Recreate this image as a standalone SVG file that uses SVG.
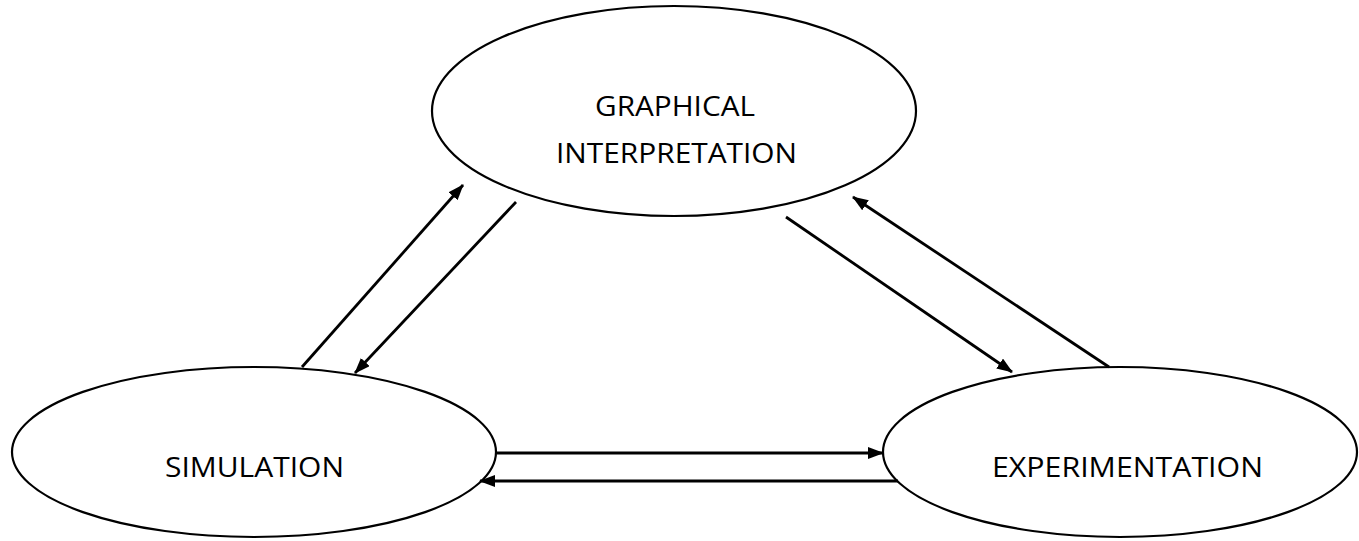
<svg xmlns="http://www.w3.org/2000/svg" width="1359" height="541" viewBox="0 0 1359 541">
  <style>
    .node ellipse { fill: #ffffff; stroke: #000000; stroke-width: 2.2; }
    .node text { font-family: "Open Sans", "Liberation Sans", sans-serif; font-size: 27px; fill: #000000; }
    .edges line { stroke: #000000; stroke-width: 2.8; fill: none; marker-end: url(#head); }
  </style>
  <defs>
    <marker id="head" markerUnits="userSpaceOnUse" markerWidth="16" markerHeight="12" viewBox="0 0 16 12" refX="15" refY="6" orient="auto">
      <path d="M0,0 L16,6 L0,12 Z" fill="#000000"/>
    </marker>
  </defs>

  <rect width="1359" height="541" fill="#ffffff"/>

  <g id="node-graphical" class="node">
    <ellipse cx="674" cy="111" rx="242" ry="105"/>
    <text x="595" y="116" textLength="160" lengthAdjust="spacingAndGlyphs">GRAPHICAL</text>
    <text x="556" y="163" textLength="241" lengthAdjust="spacingAndGlyphs">INTERPRETATION</text>
  </g>

  <g id="node-simulation" class="node">
    <ellipse cx="254" cy="452" rx="242" ry="85"/>
    <text x="165" y="477" textLength="179" lengthAdjust="spacingAndGlyphs">SIMULATION</text>
  </g>

  <g id="node-experimentation" class="node">
    <ellipse cx="1120" cy="452" rx="237" ry="85"/>
    <text x="992" y="477" textLength="271" lengthAdjust="spacingAndGlyphs">EXPERIMENTATION</text>
  </g>

  <g class="edges" id="connectors">
    <line x1="302" y1="367" x2="463" y2="185"/>
    <line x1="516" y1="202" x2="355" y2="373"/>
    <line x1="786" y1="217" x2="1012" y2="372"/>
    <line x1="1109" y1="367" x2="853" y2="197"/>
    <line x1="497" y1="453" x2="883" y2="453"/>
    <line x1="898" y1="481" x2="480" y2="481"/>
  </g>
</svg>
